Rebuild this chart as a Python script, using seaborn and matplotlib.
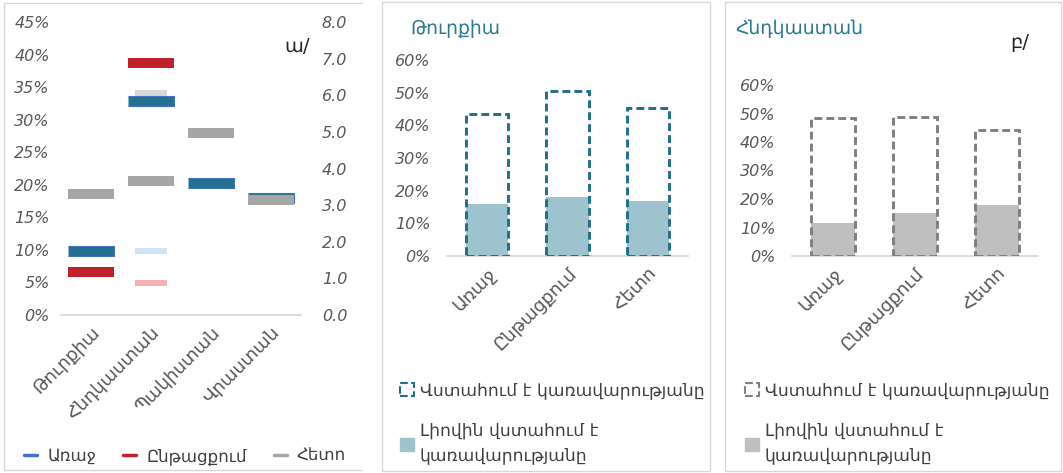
import numpy as np
import pandas as pd
import matplotlib
matplotlib.use("Agg")
import matplotlib.pyplot as plt
from matplotlib.patches import Rectangle, Patch
from matplotlib.lines import Line2D
from matplotlib.ticker import FuncFormatter
import seaborn as sns

# ── Data ──────────────────────────────────────────────────────
countries = ["Թուրքիա", "Հնդկաստան", "Պակիստան", "Վրաստան"]
# left axis, %
before = [9.8, 32.8, 20.3, 17.9]
during = [6.6, 38.7, np.nan, np.nan]
after = [18.6, 20.6, 28.0, 17.6]
# right axis (only India)
before_r = [np.nan, 1.75, np.nan, np.nan]
during_r = [np.nan, 0.87, np.nan, np.nan]
after_r = [np.nan, 6.05, np.nan, np.nan]

stages = ["Առաջ", "Ընթացքում", "Հետո"]
turkey_trust = [43.4, 50.5, 45.3]
turkey_full = [15.9, 18.0, 16.8]
india_trust = [48.4, 48.8, 44.2]
india_full = [11.6, 15.1, 17.9]

series_names = ["Առաջ", "Ընթացքում", "Հետո"]
trust_label = "Վստահում է կառավարությանը"
full_label = "Լիովին վստահում է\nկառավարությանը"

# ── Style ─────────────────────────────────────────────────────
sns.set_theme(style="white")
plt.rcParams["font.family"] = ["DejaVu Sans"]
TICK = "#595959"
BASE = "#D9D9D9"
TEAL = "#2B7A96"
W, H = 1063, 473

fig = plt.figure(figsize=(10.63, 4.73), dpi=100)


def frame_line(xs, ys):
    fig.lines.append(Line2D([x / W for x in xs], [1 - y / H for y in ys],
                            transform=fig.transFigure, color=BASE, linewidth=1))


# panel frames
frame_line([362, 4, 4, 362], [3, 3, 470, 470])
for x0, x1 in [(382, 710), (725, 1061)]:
    fig.patches.append(Rectangle((x0 / W, 2 / H), (x1 - x0) / W, 469 / H,
                                 transform=fig.transFigure, fill=False,
                                 edgecolor=BASE, linewidth=1))

rect = [(-1, -0.21), (1, -0.21), (1, 0.21), (-1, 0.21)]
pos = np.arange(len(countries))

# ── Left panel ────────────────────────────────────────────────
ax = fig.add_axes([61 / W, 1 - 315 / H, 240 / W, 293 / H])
ax2 = ax.twinx()

sns.scatterplot(x=pos, y=after_r, marker=rect, s=560, color="#D9D9D9", linewidth=0, ax=ax2)
sns.scatterplot(x=pos, y=before_r, marker=rect, s=560, color="#CFE4F4", linewidth=0, ax=ax2)
sns.scatterplot(x=pos, y=during_r, marker=rect, s=560, color="#F4B0B2", linewidth=0, ax=ax2)

sns.scatterplot(x=pos, y=before, marker=rect, s=1080, color="#23708F",
                edgecolor="#4472C4", linewidth=0.8, ax=ax)
sns.scatterplot(x=pos, y=during, marker=rect, s=1080, color="#C0202A", linewidth=0, ax=ax)
sns.scatterplot(x=pos, y=after, marker=rect, s=1080, color="#A6A6A6", linewidth=0, ax=ax)

ax.set_zorder(ax2.get_zorder() + 1)
ax.patch.set_visible(False)

ax.set_xlim(-0.5, 3.5)
ax.set_ylim(0, 45)
ax2.set_ylim(0, 8)
ax.set_yticks(range(0, 46, 5))
ax2.set_yticks(range(0, 9))
ax.yaxis.set_major_formatter(FuncFormatter(lambda v, p: f"{v:.0f}%"))
ax2.yaxis.set_major_formatter(FuncFormatter(lambda v, p: f"{v:.1f}"))
ax.set_xticks(pos)
ax.set_xticklabels(countries, rotation=45, ha="right", rotation_mode="anchor",
                   fontsize=13, color=TICK)
for a in (ax, ax2):
    a.tick_params(axis="y", length=0, labelsize=11.5, labelcolor=TICK)
    a.tick_params(axis="x", length=0, pad=6)
    for lab in a.get_yticklabels():
        lab.set_fontstyle("italic")
    for s in a.spines.values():
        s.set_visible(False)
ax.spines["bottom"].set_visible(True)
ax.spines["bottom"].set_color(BASE)
ax.tick_params(axis="y", pad=8)
ax2.tick_params(axis="y", pad=15)
ax.set_xlabel("")
ax.text(0.985, 0.915, "ա/", transform=ax.transAxes, fontsize=14, ha="center", va="center")

leg_handles = [Line2D([], [], color=c, linewidth=2.5)
               for c in ["#4472C4", "#C0202A", "#A6A6A6"]]
fig.legend(leg_handles, series_names, loc="center", ncol=3,
           bbox_to_anchor=(185 / W, 1 - 456 / H), frameon=False,
           handlelength=0.8, columnspacing=1.6, handletextpad=0.6,
           prop={"size": 12}, labelcolor="#404040")


# ── Bar panels ────────────────────────────────────────────────
def trust_panel(rect_px, top_px, trust, full, edge, fill, title, title_x, note=None):
    x0, x1 = rect_px
    a = fig.add_axes([x0 / W, 1 - 256 / H, (x1 - x0) / W, (256 - top_px) / H])
    df = pd.DataFrame({"stage": stages, "trust": trust, "full": full})
    sns.barplot(data=df, x="stage", y="full", color=fill, width=0.53,
                saturation=1, linewidth=0, ax=a)
    sns.barplot(data=df, x="stage", y="trust", color=edge, fill=False, width=0.53,
                linewidth=2.1, linestyle=(0, (2.7, 1.4)), ax=a)
    a.set_ylim(0, 60)
    a.set_xlim(-0.5, 2.5)
    a.set_yticks(range(0, 61, 10))
    a.yaxis.set_major_formatter(FuncFormatter(lambda v, p: f"{v:.0f}%"))
    a.tick_params(axis="y", length=0, labelsize=11.5, labelcolor=TICK, pad=12)
    a.tick_params(axis="x", length=0, pad=6)
    for lab in a.get_yticklabels():
        lab.set_fontstyle("italic")
    a.set_xticks(range(3))
    a.set_xticklabels(stages, rotation=45, ha="right", rotation_mode="anchor",
                      fontsize=13, color=TICK)
    a.set_xlabel("")
    a.set_ylabel("")
    for s in a.spines.values():
        s.set_visible(False)
    a.spines["bottom"].set_visible(True)
    a.spines["bottom"].set_color(BASE)
    a.spines["bottom"].set_zorder(0)
    fig.text(title_x / W, 1 - 28 / H, title, color=TEAL, fontsize=13.5,
             ha="left", va="center")
    if note:
        fig.text(1020 / W, 1 - 42 / H, note, fontsize=14, ha="center", va="center")
    handles = [Patch(facecolor="white", edgecolor=edge, linestyle="--", linewidth=1.5),
               Patch(facecolor=fill, edgecolor=fill)]
    leg = fig.legend(handles, [trust_label, full_label], loc="upper left",
                     bbox_to_anchor=((x0 - 62) / W, 1 - 366 / H), frameon=False,
                     handlelength=0.8, handleheight=0.8, handletextpad=0.35,
                     labelspacing=1.3, prop={"size": 12.3}, labelcolor="#404040")
    for t in leg.get_texts():
        t.set_linespacing(1.5)
    return a


trust_panel((447, 688), 60, turkey_trust, turkey_full, "#1F6E8C", "#9DC3CE",
            "Թուրքիա", 410)
trust_panel((792, 1038), 85, india_trust, india_full, "#7F7F7F", "#BFBFBF",
            "Հնդկաստան", 735, "բ/")

fig.savefig("out.png", dpi=100)
